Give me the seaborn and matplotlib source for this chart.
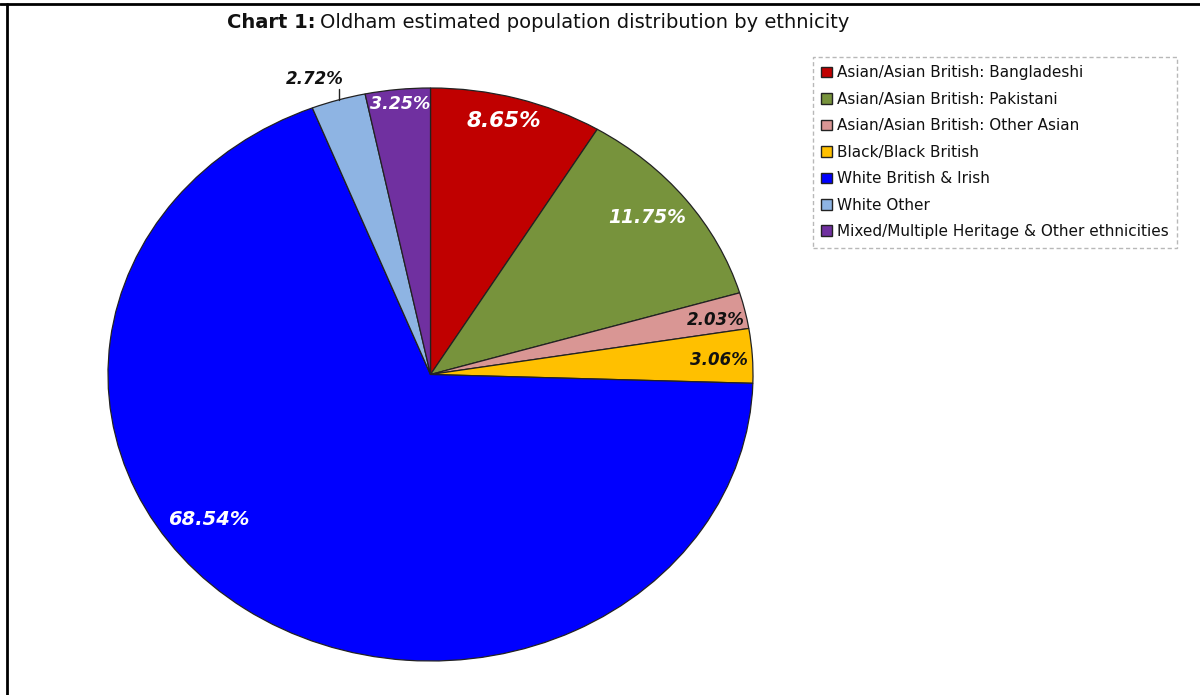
import matplotlib
matplotlib.use("Agg")
import matplotlib.pyplot as plt
from matplotlib.patches import Patch
from matplotlib.lines import Line2D
import seaborn as sns

sns.set_theme(style="white")
plt.rcParams["font.family"] = ["DejaVu Sans"]

# Population share by ethnic group (%)
categories = [
    "Asian/Asian British: Bangladeshi",
    "Asian/Asian British: Pakistani",
    "Asian/Asian British: Other Asian",
    "Black/Black British",
    "White British & Irish",
    "White Other",
    "Mixed/Multiple Heritage & Other ethnicities",
]
shares = [8.65, 11.75, 2.03, 3.06, 68.54, 2.72, 3.25]
colors = ["#C00000", "#77933C", "#D99694", "#FFC000", "#0000FF", "#8EB4E3", "#7030A0"]

# label placement inside the unit pie: (x, y, text colour, font size)
label_style = [
    (0.227, 0.885, "white", 15.5),
    (0.671, 0.547, "white", 13.5),
    (0.885, 0.190, "#111111", 12),
    (0.894, 0.049, "#111111", 12),
    (-0.689, -0.505, "white", 14),
    (-0.360, 1.031, "#111111", 12),
    (-0.093, 0.944, "white", 12.5),
]

W, H = 1200, 695
fig = plt.figure(figsize=(W / 100, H / 100), dpi=100)
fig.patch.set_facecolor("white")

# pie drawn into an axes whose box is the (slightly elliptical) pie outline
left, right, top, bottom = 108, 753, 88, 661
ax = fig.add_axes([left / W, (H - bottom) / H, (right - left) / W, (bottom - top) / H])
wedges, _ = ax.pie(
    shares,
    colors=colors,
    startangle=90,
    counterclock=False,
    radius=1,
    wedgeprops=dict(edgecolor="#222222", linewidth=0.9),
)
ax.set_aspect("auto")
ax.set_xlim(-1, 1)
ax.set_ylim(-1, 1)
ax.axis("off")

for val, (x, y, c, fs) in zip(shares, label_style):
    ax.text(x, y, f"{val:.2f}%", ha="center", va="center", color=c,
            fontsize=fs, fontweight="bold", fontstyle="italic", clip_on=False)

# leader line for the small White Other slice
ax.add_line(Line2D([-0.283, -0.283], [0.959, 0.995], color="#222222", lw=1.0, clip_on=False))

# title
t1 = fig.text(227 / W, 1 - 22 / H, "Chart 1:", fontsize=14, fontweight="bold",
              ha="left", va="center", color="#111111")
fig.canvas.draw()
bb = t1.get_window_extent()
fig.text(bb.x1 / W + 5 / W, 1 - 22 / H, "Oldham estimated population distribution by ethnicity",
         fontsize=14, ha="left", va="center", color="#111111")

# legend
handles = [Patch(facecolor=c, edgecolor="#222222", linewidth=1.0) for c in colors]
leg = fig.legend(
    handles, categories,
    loc="upper left",
    bbox_to_anchor=(813 / W, 1 - 57 / H),
    frameon=True, fancybox=False,
    fontsize=11,
    handlelength=0.7, handleheight=0.7, handletextpad=0.3,
    labelspacing=0.75, borderpad=0.55, borderaxespad=0,
)
frame = leg.get_frame()
frame.set_edgecolor("#A6A6A6")
frame.set_linestyle((0, (3, 2)))
frame.set_linewidth(1.0)
for txt in leg.get_texts():
    txt.set_color("#111111")

# outer chart border (top and left)
fig.add_artist(Line2D([0, 1], [1 - 4 / H, 1 - 4 / H], transform=fig.transFigure, color="black", lw=2))
fig.add_artist(Line2D([7 / W, 7 / W], [0, 1 - 4 / H], transform=fig.transFigure, color="black", lw=2))

fig.savefig("out.png", dpi=100, facecolor="white")
